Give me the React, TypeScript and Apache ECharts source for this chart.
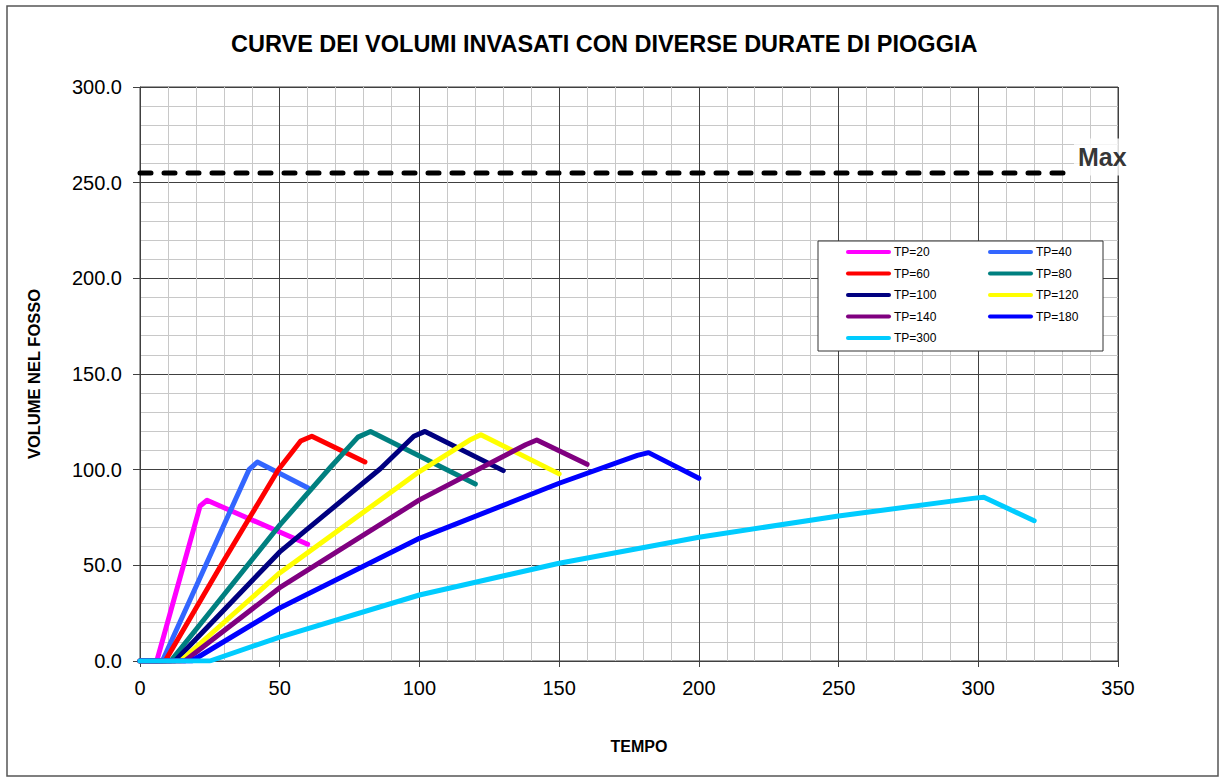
import React, { useEffect, useRef } from "react";
import * as echarts from "echarts";

const FONT = "'Liberation Sans', Arial, sans-serif";

const titleText = "CURVE DEI VOLUMI INVASATI CON DIVERSE DURATE DI PIOGGIA";
const xName = "TEMPO";
const yName = "VOLUME NEL FOSSO";

// [tempo, volume]
const tp20 = [[0, 0], [6, 0], [21.5, 81], [24, 84], [60, 61]];
const tp40 = [[0, 0], [8, 0], [39, 100], [42, 104], [60, 90.5]];
const tp60 = [[0, 0], [9, 0], [29, 50], [49.5, 100], [57.5, 115], [61.5, 117.5], [80.5, 104]];
const tp80 = [[0, 0], [11, 0], [50, 71], [68, 101], [78, 117], [82.5, 120], [120, 92.5]];
const tp100 = [[0, 0], [12.5, 0], [50, 57], [86, 100.5], [98, 117.5], [102, 120], [130, 99.5]];
const tp120 = [[0, 0], [14.5, 0], [50, 46], [100, 99], [118, 115.5], [122, 118.3], [150, 97.8]];
const tp140 = [[0, 0], [16, 0], [50, 38.3], [100, 84.2], [138, 113], [142, 115.5], [160, 102.8]];
const tp180 = [[0, 0], [18.5, 0], [50, 27.7], [100, 64.1], [150, 92.9], [178, 107.5], [182, 108.9], [200, 95.5]];
const tp300 = [[0, 0], [25, 0], [50, 12.5], [100, 34.5], [150, 51.1], [200, 64.7], [250, 75.8], [298, 85], [302, 85.6], [320, 73.3]];

const seriesNames = ["TP=20", "TP=40", "TP=60", "TP=80", "TP=100", "TP=120", "TP=140", "TP=180", "TP=300"];
const seriesData = [tp20, tp40, tp60, tp80, tp100, tp120, tp140, tp180, tp300];
const seriesColors = ["#FF00FF", "#3366FF", "#FF0000", "#008080", "#000080", "#FFFF00", "#800080", "#0000FF", "#00CCFF"];

const maxValue = 255;
const maxLine = [[0, maxValue], [333, maxValue]];
const maxLabel = "Max";

const legendLeft = ["TP=20", "TP=60", "TP=100", "TP=140", "TP=300"];
const legendRight = ["TP=40", "TP=80", "TP=120", "TP=180"];

export default function App() {
  const ref = useRef<HTMLDivElement>(null);
  useEffect(() => {
    if (!ref.current) return;
    const chart = echarts.init(ref.current, null, { renderer: "svg" });
    const lineSeries = seriesNames.map((name, i) => ({
      name,
      type: "line",
      data: seriesData[i],
      symbol: "none",
      lineStyle: { color: seriesColors[i], width: 5, cap: "round", join: "round" },
      itemStyle: { color: seriesColors[i] },
      z: 3,
    }));
    const legendCommon = {
      orient: "vertical",
      top: 246,
      padding: 0,
      itemWidth: 41,
      itemHeight: 14,
      itemGap: 9.5,
      textStyle: { fontSize: 12, color: "#000", fontFamily: FONT },
      lineStyle: { width: 4 },
      itemStyle: { opacity: 0 },
      z: 5,
    };
    chart.setOption({
      animation: false,
      backgroundColor: "#fff",
      title: {
        text: titleText,
        left: 231,
        top: 32,
        padding: 0,
        textStyle: { fontSize: 23.5, fontWeight: "bold", color: "#000", fontFamily: FONT },
      },
      graphic: [
        {
          type: "rect",
          shape: { x: 7, y: 6, width: 1211, height: 770 },
          style: { fill: "none", stroke: "#555", lineWidth: 1.5 },
          z: 1,
        },
        {
          type: "rect",
          shape: { x: 818, y: 241, width: 285, height: 110 },
          style: { fill: "#fff", stroke: "#333", lineWidth: 1 },
          z: 4,
        },
      ],
      legend: [
        { ...legendCommon, left: 846, data: legendLeft },
        { ...legendCommon, left: 988, data: legendRight },
      ],
      grid: {
        left: 140,
        right: 107,
        top: 87,
        bottom: 121,
        show: true,
        borderColor: "#404040",
        borderWidth: 1,
        backgroundColor: "transparent",
      },
      xAxis: {
        type: "value",
        min: 0,
        max: 350,
        interval: 50,
        name: xName,
        nameLocation: "middle",
        nameGap: 77,
        nameTextStyle: { fontSize: 16, fontWeight: "bold", color: "#000", fontFamily: FONT, padding: [0, 0, 0, 20] },
        axisLine: { show: true, lineStyle: { color: "#404040", width: 1 } },
        axisTick: { show: true, inside: false, length: 6, lineStyle: { color: "#404040" } },
        axisLabel: { fontSize: 20, color: "#000", margin: 17, fontFamily: FONT },
        splitLine: { show: true, lineStyle: { color: "#404040", width: 1 } },
        minorTick: { show: false, splitNumber: 5 },
        minorSplitLine: { show: true, lineStyle: { color: "#c8c8c8", width: 1 } },
      },
      yAxis: {
        type: "value",
        min: 0,
        max: 300,
        interval: 50,
        name: yName,
        nameLocation: "middle",
        nameRotate: 90,
        nameGap: 98,
        nameTextStyle: { fontSize: 16.5, fontWeight: "bold", color: "#000", fontFamily: FONT },
        axisLine: { show: true, lineStyle: { color: "#404040", width: 1 } },
        axisTick: { show: true, inside: false, length: 7, lineStyle: { color: "#404040" } },
        axisLabel: {
          fontSize: 20,
          color: "#000",
          margin: 18,
          fontFamily: FONT,
          formatter: (v: number) => v.toFixed(1),
        },
        splitLine: { show: true, lineStyle: { color: "#404040", width: 1 } },
        minorTick: { show: false, splitNumber: 5 },
        minorSplitLine: { show: true, lineStyle: { color: "#c8c8c8", width: 1 } },
      },
      series: [
        {
          name: "Max",
          type: "line",
          data: maxLine,
          symbol: "none",
          lineStyle: { color: "#000", width: 5, type: [11, 13], cap: "round" },
          z: 3,
        },
        {
          name: "MaxLabel",
          type: "scatter",
          data: [maxLine[maxLine.length - 1]],
          symbolSize: 1,
          itemStyle: { color: "rgba(0,0,0,0)" },
          label: {
            show: true,
            formatter: maxLabel,
            position: "right",
            distance: 3,
            offset: [0, -16],
            fontSize: 25,
            fontWeight: "bold",
            color: "#000",
            fontFamily: FONT,
            backgroundColor: "#fff",
            padding: [6, 4, 6, 4],
          },
          z: 4,
        },
        ...lineSeries,
      ],
    });
    return () => chart.dispose();
  }, []);
  return (
    <div
      ref={ref}
      style={{ position: "fixed", left: 0, top: 0, width: 1225, height: 782, background: "#fff" }}
    />
  );
}
